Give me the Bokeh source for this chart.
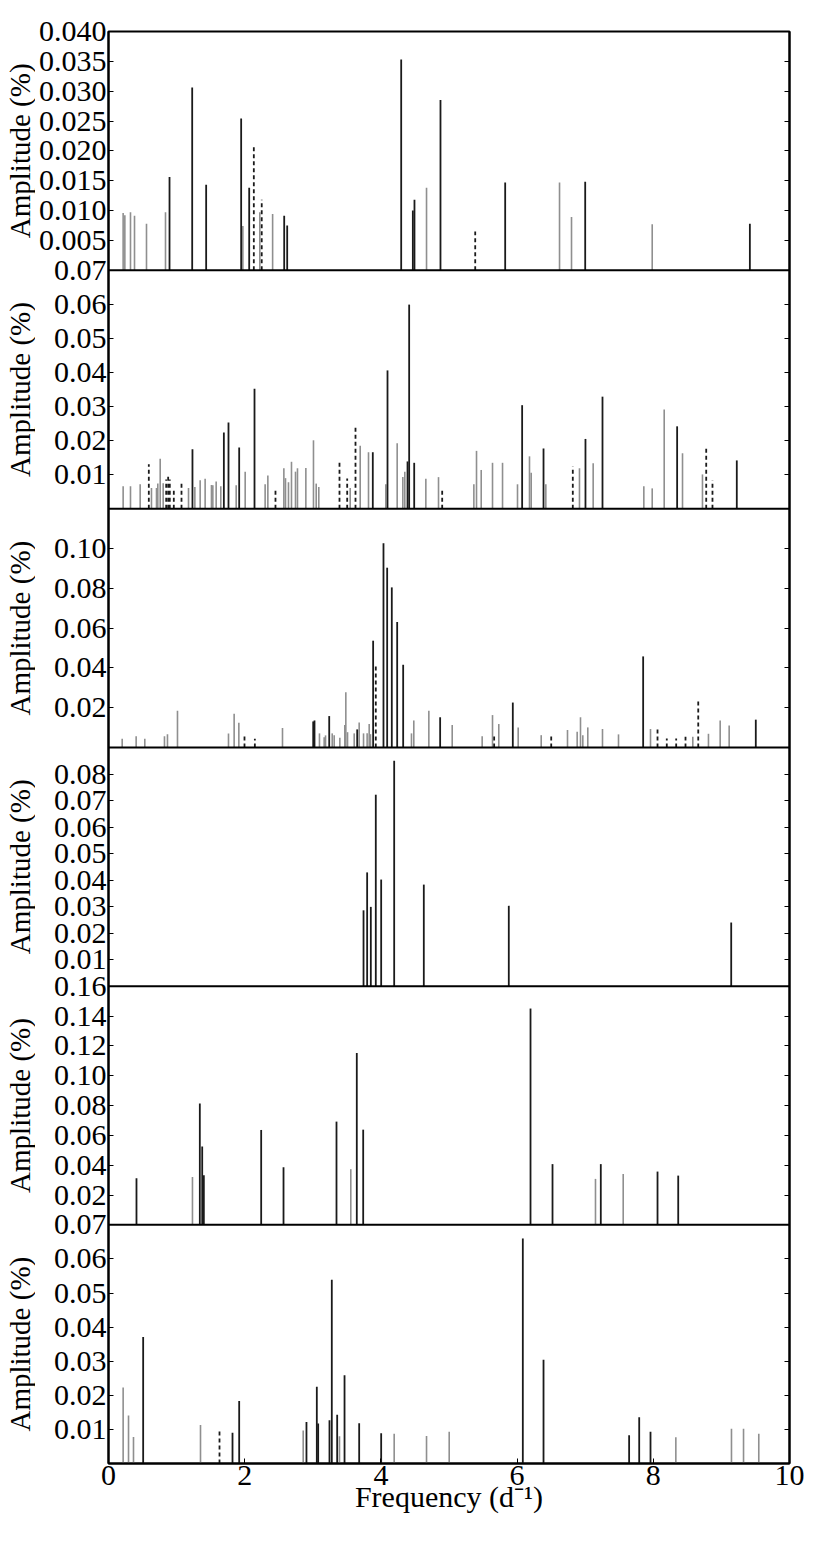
import math
from bokeh.plotting import figure
from bokeh.layouts import row
from bokeh.models import (Range1d, LinearAxis, FixedTicker, CustomJSTickFormatter,
                          Span, ColumnDataSource)
from bokeh.core.properties import value
from bokeh.embed import file_html
from bokeh.resources import INLINE

# ---------------- data (frequency in d^-1, amplitude in %) ----------------
# Panel 1
P1_BLACK_F = [0.896, 1.229, 1.434, 1.948, 2.066, 2.580, 2.624, 4.298, 4.469, 4.493, 4.875, 5.825, 7.000, 9.418]
P1_BLACK_A = [0.0156, 0.0306, 0.0143, 0.0254, 0.0138, 0.0091, 0.0075, 0.0353, 0.0100, 0.0118, 0.0285, 0.0147, 0.0148, 0.0078]
P1_GRAY_F = [0.215, 0.240, 0.323, 0.382, 0.558, 0.837, 1.973, 2.222, 2.410, 4.670, 6.623, 6.799, 7.984]
P1_GRAY_A = [0.0096, 0.0092, 0.0097, 0.0091, 0.0078, 0.0097, 0.0074, 0.0097, 0.0094, 0.0138, 0.0147, 0.0089, 0.0077]
P1_DASH_F = [2.134, 2.250, 5.385]
P1_DASH_A = [0.0209, 0.0118, 0.0065]

# Panel 2
P2_BLACK_F = [1.233, 1.694, 1.762, 1.919, 2.144, 3.881, 4.097, 4.391, 4.415, 4.489, 6.074, 6.388, 7.004, 7.254, 8.350, 9.226]
P2_BLACK_A = [0.0175, 0.0224, 0.0253, 0.0180, 0.0352, 0.0166, 0.0406, 0.0139, 0.0599, 0.0135, 0.0304, 0.0177, 0.0205, 0.0329, 0.0242, 0.0142]
P2_GRAY_F = [0.215, 0.323, 0.465, 0.631, 0.705, 0.724, 0.759, 0.803, 1.175, 1.268, 1.346, 1.419, 1.512, 1.532,
             1.581, 1.649, 1.875, 2.007, 2.300, 2.340, 2.575, 2.599, 2.643, 2.687, 2.746, 2.775, 2.898, 3.010,
             3.050, 3.088, 3.549, 3.696, 3.818, 4.072, 4.239, 4.322, 4.351, 4.660, 4.846, 5.365, 5.404,
             5.473, 5.639, 5.786, 6.006, 6.182, 6.207, 6.422, 6.916, 7.117, 7.861, 7.984, 8.160, 8.429, 8.722]
P2_GRAY_A = [0.0066, 0.0066, 0.0072, 0.0061, 0.0061, 0.0074, 0.0147, 0.0075, 0.0061, 0.0064, 0.0084, 0.0088, 0.0070, 0.0069,
             0.0080, 0.0066, 0.0069, 0.0109, 0.0072, 0.0098, 0.0119, 0.0090, 0.0078, 0.0138, 0.0109, 0.0119, 0.0120, 0.0201,
             0.0074, 0.0064, 0.0061, 0.0185, 0.0166, 0.0072, 0.0192, 0.0093, 0.0109, 0.0088, 0.0093, 0.0072, 0.0170,
             0.0114, 0.0135, 0.0135, 0.0072, 0.0154, 0.0106, 0.0072, 0.0119, 0.0134, 0.0066, 0.0060, 0.0291, 0.0163, 0.0101]
P2_DASH_F = [0.592, 0.847, 0.876, 0.900, 0.959, 1.072, 2.452, 3.392, 3.505, 3.627, 4.900, 6.818, 8.777, 8.869]
P2_DASH_A = [0.0131, 0.0086, 0.0100, 0.0086, 0.0061, 0.0080, 0.0061, 0.0137, 0.0089, 0.0239, 0.0061, 0.0124, 0.0185, 0.0083]

# Panel 3
P3_BLACK_F = [3.006, 3.025, 3.241, 3.652, 3.886, 4.038, 4.092, 4.160, 4.239, 4.327, 4.870, 5.937, 7.851, 9.505]
P3_BLACK_A = [0.0131, 0.0136, 0.0158, 0.0091, 0.0537, 0.1027, 0.0904, 0.0805, 0.0631, 0.0416, 0.0152, 0.0226, 0.0458, 0.0140]
P3_GRAY_F = [0.201, 0.406, 0.533, 0.822, 0.866, 1.013, 1.762, 1.845, 1.914, 2.555, 3.098, 3.167, 3.187, 3.285,
             3.314, 3.397, 3.470, 3.485, 3.510, 3.608, 3.681, 3.745, 3.798, 3.828, 3.847, 4.449, 4.483, 4.704,
             5.047, 5.487, 5.639, 5.731, 6.016, 6.354, 6.740, 6.882, 6.931, 6.965, 7.038, 7.254, 7.489, 7.959,
             8.580, 8.810, 8.982, 9.114]
P3_GRAY_A = [0.0044, 0.0057, 0.0044, 0.0057, 0.0067, 0.0185, 0.0071, 0.0170, 0.0125, 0.0098, 0.0071, 0.0052, 0.0061, 0.0071,
             0.0061, 0.0049, 0.0113, 0.0278, 0.0077, 0.0071, 0.0126, 0.0071, 0.0072, 0.0118, 0.0067, 0.0071, 0.0136, 0.0185,
             0.0113, 0.0056, 0.0163, 0.0118, 0.0101, 0.0062, 0.0088, 0.0079, 0.0152, 0.0061, 0.0101, 0.0093, 0.0066, 0.0093,
             0.0054, 0.0069, 0.0136, 0.0111]
P3_DASH_F = [1.997, 2.149, 3.925, 5.663, 6.501, 8.062, 8.198, 8.336, 8.473, 8.660]
P3_DASH_A = [0.0059, 0.0044, 0.0413, 0.0062, 0.0062, 0.0106, 0.0045, 0.0045, 0.0054, 0.0237]

# Panel 4
P4_BLACK_F = [3.745, 3.798, 3.852, 3.925, 4.004, 4.195, 4.630, 5.878, 9.144]
P4_BLACK_A = [0.0286, 0.0429, 0.0299, 0.0722, 0.0402, 0.0850, 0.0383, 0.0303, 0.0240]
P4_GRAY_F = []
P4_GRAY_A = []
P4_DASH_F = []
P4_DASH_A = []

# Panel 5
P5_BLACK_F = [0.411, 1.341, 1.376, 1.400, 2.242, 2.570, 3.348, 3.646, 3.740, 6.197, 6.520, 7.229, 8.062, 8.366]
P5_BLACK_A = [0.0312, 0.0813, 0.0525, 0.0333, 0.0636, 0.0386, 0.0692, 0.1152, 0.0638, 0.1450, 0.0407, 0.0407, 0.0357, 0.0330]
P5_GRAY_F = [1.233, 3.558, 7.151, 7.558]
P5_GRAY_A = [0.0321, 0.0373, 0.0308, 0.0341]
P5_DASH_F = []
P5_DASH_A = []

# Panel 6
P6_BLACK_F = [0.509, 1.821, 1.919, 2.907, 3.059, 3.079, 3.245, 3.279, 3.358, 3.466, 3.681, 4.004, 6.084, 6.388,
              7.645, 7.793, 7.959]
P6_BLACK_A = [0.0371, 0.0090, 0.0183, 0.0122, 0.0225, 0.0117, 0.0127, 0.0539, 0.0143, 0.0259, 0.0118, 0.0089, 0.0660, 0.0304,
              0.0083, 0.0136, 0.0093]
P6_GRAY_F = [0.215, 0.294, 0.367, 1.351, 2.859, 3.392, 4.195, 4.670, 5.003, 8.331, 9.148, 9.325, 9.549]
P6_GRAY_A = [0.0223, 0.0141, 0.0078, 0.0113, 0.0097, 0.0080, 0.0087, 0.0081, 0.0093, 0.0077, 0.0102, 0.0102, 0.0087]
P6_DASH_F = [1.630]
P6_DASH_A = [0.0100]

# panel y-limits (top of each amplitude axis)
PANEL_TOPS = [0.040, 0.07, 0.12, 0.09, 0.16, 0.07]

# y tick values / labels for each panel
P1_TICKS = [0.005, 0.010, 0.015, 0.020, 0.025, 0.030, 0.035, 0.040]
P1_TICK_LABELS = ["0.005", "0.010", "0.015", "0.020", "0.025", "0.030", "0.035", "0.040"]
P2_TICKS = [0.01, 0.02, 0.03, 0.04, 0.05, 0.06, 0.07]
P2_TICK_LABELS = ["0.01", "0.02", "0.03", "0.04", "0.05", "0.06", "0.07"]
P3_TICKS = [0.02, 0.04, 0.06, 0.08, 0.10]
P3_TICK_LABELS = ["0.02", "0.04", "0.06", "0.08", "0.10"]
P4_TICKS = [0.01, 0.02, 0.03, 0.04, 0.05, 0.06, 0.07, 0.08]
P4_TICK_LABELS = ["0.01", "0.02", "0.03", "0.04", "0.05", "0.06", "0.07", "0.08"]
P5_TICKS = [0.02, 0.04, 0.06, 0.08, 0.10, 0.12, 0.14, 0.16]
P5_TICK_LABELS = ["0.02", "0.04", "0.06", "0.08", "0.10", "0.12", "0.14", "0.16"]
P6_TICKS = [0.01, 0.02, 0.03, 0.04, 0.05, 0.06, 0.07]
P6_TICK_LABELS = ["0.01", "0.02", "0.03", "0.04", "0.05", "0.06", "0.07"]

X_TICKS = [0, 2, 4, 6, 8, 10]
Y_TITLE = "Amplitude (%)"
X_TITLE = "Frequency (d\u207b\u00b9)"

PANELS = [
    (P1_BLACK_F, P1_BLACK_A, P1_GRAY_F, P1_GRAY_A, P1_DASH_F, P1_DASH_A, P1_TICKS, P1_TICK_LABELS),
    (P2_BLACK_F, P2_BLACK_A, P2_GRAY_F, P2_GRAY_A, P2_DASH_F, P2_DASH_A, P2_TICKS, P2_TICK_LABELS),
    (P3_BLACK_F, P3_BLACK_A, P3_GRAY_F, P3_GRAY_A, P3_DASH_F, P3_DASH_A, P3_TICKS, P3_TICK_LABELS),
    (P4_BLACK_F, P4_BLACK_A, P4_GRAY_F, P4_GRAY_A, P4_DASH_F, P4_DASH_A, P4_TICKS, P4_TICK_LABELS),
    (P5_BLACK_F, P5_BLACK_A, P5_GRAY_F, P5_GRAY_A, P5_DASH_F, P5_DASH_A, P5_TICKS, P5_TICK_LABELS),
    (P6_BLACK_F, P6_BLACK_A, P6_GRAY_F, P6_GRAY_A, P6_DASH_F, P6_DASH_A, P6_TICKS, P6_TICK_LABELS),
]

# ---------------- figures ----------------
FONT = "Liberation Serif"
FS = "30px"
TITLE_FS = "29px"
N = len(PANELS)
FRAME_H = 1432
TOP = 31

p = figure(frame_width=681, frame_height=FRAME_H,
           x_range=Range1d(0, 10), y_range=Range1d(0, N),
           y_axis_location=None,
           output_backend="svg", toolbar_location=None,
           min_border_left=70, min_border_right=30, min_border_top=TOP, min_border_bottom=8,
           background_fill_color="white", border_fill_color="white")
p.grid.visible = False
p.outline_line_color = "black"
p.outline_line_width = 2

BLACK = "#1a1a1a"
GRAY = "#8f8f8f"

tick_pos = []
tick_lab = []
for k, (bf, ba, gf, ga, df, da, ticks, labels) in enumerate(PANELS):
    top = PANEL_TOPS[k]
    base = N - 1 - k
    name = "panel%d" % k
    p.extra_y_ranges[name] = Range1d(-base * top, (N - base) * top)
    for f, a, col, dash, lw in ((gf, ga, GRAY, "solid", 1.6), (bf, ba, BLACK, "solid", 1.8),
                                (df, da, BLACK, "4 3", 1.8)):
        if not f:
            continue
        src = ColumnDataSource(dict(f=f, a=a))
        p.segment(x0="f", y0=0, x1="f", y1="a", source=src, y_range_name=name,
                  line_color=col, line_width=lw, line_dash=dash)
    for v, lab in zip(ticks, labels):
        tick_pos.append(base + v / top)
        tick_lab.append(lab)
    if k > 0:
        p.add_layout(Span(location=base + 1, dimension="width", line_color="black", line_width=2))

fmt_code = """
let best = 0;
for (let i = 0; i < pos.length; i++) {
  if (Math.abs(pos[i] - tick) < Math.abs(pos[best] - tick)) { best = i; }
}
return labels[best];
"""
left = LinearAxis(ticker=FixedTicker(ticks=tick_pos),
                  formatter=CustomJSTickFormatter(args=dict(pos=tick_pos, labels=tick_lab), code=fmt_code))
right = LinearAxis(ticker=FixedTicker(ticks=tick_pos),
                   formatter=CustomJSTickFormatter(code="return '';"))
for ax in (left, right):
    ax.major_tick_in = 5
    ax.major_tick_out = 0
    ax.minor_tick_line_color = None
    ax.axis_line_width = 2
    ax.major_label_standoff = 2
    ax.major_label_text_font = FONT
    ax.major_label_text_font_size = FS
    ax.major_label_text_color = "black"
p.add_layout(left, "left")
p.add_layout(right, "right")

xa = p.xaxis[0]
xa.ticker = FixedTicker(ticks=X_TICKS)
xa.major_tick_in = 5
xa.major_tick_out = 0
xa.minor_tick_line_color = None
xa.axis_line_width = 2
xa.major_label_standoff = 2
xa.major_label_text_font = FONT
xa.major_label_text_font_size = FS
xa.major_label_text_color = "black"
xa.axis_label = X_TITLE
xa.axis_label_text_font = FONT
xa.axis_label_text_font_size = FS
xa.axis_label_text_font_style = "normal"
xa.axis_label_text_color = "black"
xa.axis_label_standoff = -8

# narrow strip holding the six y-axis titles, aligned with the panels
STRIP_W = 35
lab = figure(frame_width=STRIP_W, frame_height=FRAME_H, x_range=Range1d(0, STRIP_W), y_range=Range1d(0, N),
             x_axis_location=None, y_axis_location=None,
             output_backend="svg", toolbar_location=None,
             min_border_left=0, min_border_right=0, min_border_top=TOP, min_border_bottom=0,
             background_fill_color="white", border_fill_color="white")
lab.grid.visible = False
lab.outline_line_color = None
lab.text(x=[19] * N, y=[N - 1 - k + 0.5 for k in range(N)], text=[Y_TITLE] * N,
         angle=math.pi / 2, text_align="center", text_baseline="middle",
         text_font=value(FONT), text_font_size=TITLE_FS, text_color="black")

layout = row(lab, p, spacing=0)
open("out.html", "w").write(file_html(layout, INLINE))
